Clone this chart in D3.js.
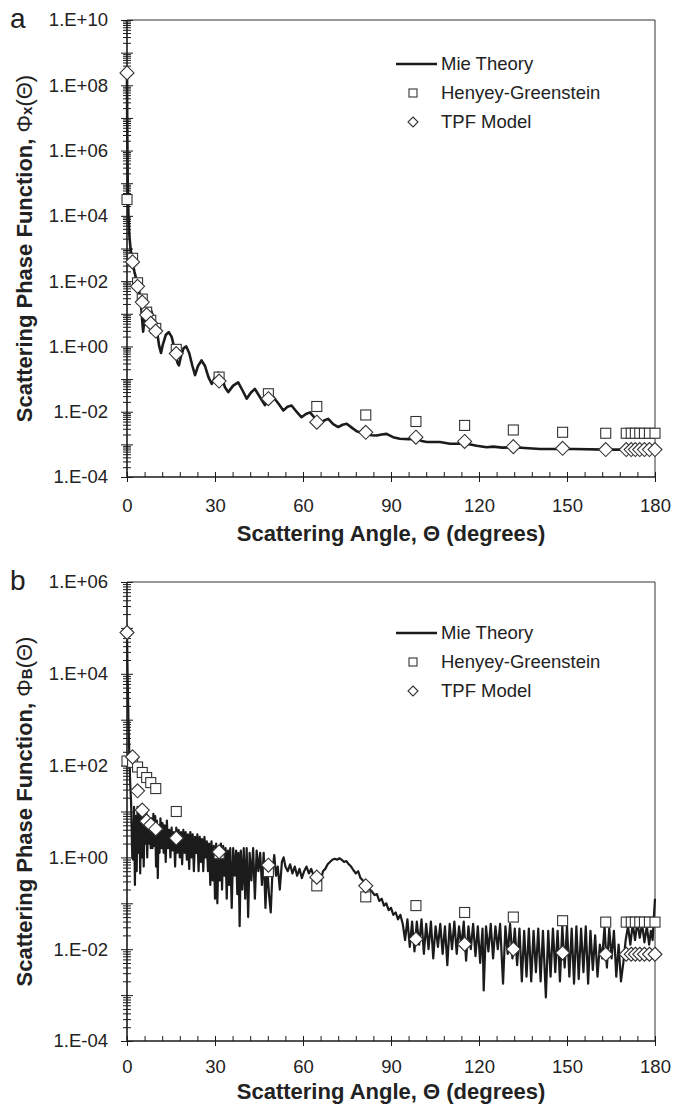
<!DOCTYPE html>
<html>
<head>
<meta charset="utf-8">
<script src="https://cdn.jsdelivr.net/npm/d3@7"></script>
<style>
  body { margin: 0; background: #fff; }
  svg { display: block; font-family: "Liberation Sans", Arial, sans-serif; }
</style>
</head>
<body>
<div class="chart"></div>
<script>
/* Quadrature angles (degrees) where the two models are plotted */
const quadAngles = [0, 1.9, 3.6, 5.2, 6.7, 8.1, 9.8, 16.8, 31.4, 48.2, 64.7, 81.4, 98.5,
  115.1, 131.7, 148.5, 163.2, 170.2, 171.9, 173.3, 174.8, 176.4, 178.1, 180];

/* All series below are log10 of the phase function */
const hgXLog = [4.5, 2.7, 1.95, 1.45, 1.05, 0.8, 0.55, -0.09, -0.94, -1.45, -1.84, -2.1, -2.3,
  -2.42, -2.56, -2.63, -2.66, -2.66, -2.66, -2.66, -2.66, -2.66, -2.66, -2.66];
const tpfXLog = [8.38, 2.59, 1.84, 1.36, 0.97, 0.71, 0.47, -0.22, -1.06, -1.6, -2.32, -2.63, -2.78,
  -2.91, -3.07, -3.12, -3.16, -3.16, -3.16, -3.16, -3.16, -3.16, -3.16, -3.16];
const hgBLog = [2.1, 2.07, 1.97, 1.85, 1.74, 1.63, 1.5, 1.0, 0.08, -0.31, -0.62, -0.86, -1.05,
  -1.2, -1.3, -1.38, -1.41, -1.41, -1.41, -1.41, -1.41, -1.41, -1.41, -1.41];
const tpfBLog = [4.9, 2.19, 1.45, 1.03, 0.79, 0.71, 0.62, 0.42, 0.12, -0.17, -0.43, -0.62, -1.78,
  -1.89, -2.0, -2.08, -2.11, -2.11, -2.11, -2.11, -2.11, -2.11, -2.11, -2.11];

/* Mie theory curves: [angle, log10 value] */
const mieXLog = [[0,8.4],[0.1,6.6],[0.25,5.0],[0.5,4.0],[0.8,3.4],[1.2,3.0],[1.8,2.62],[2.5,2.3],
  [3.3,2.0],[4.0,1.75],[4.6,1.5],[5.0,1.0],[5.5,0.45],[5.9,0.8],[6.5,1.05],[7.2,1.15],[7.8,1.17],
  [8.4,1.05],[9.0,0.85],[9.6,0.7],[10.4,0.35],[11.0,0.0],[11.6,-0.2],[12.2,0.05],[13.2,0.35],
  [14.2,0.44],[15.2,0.3],[16.3,-0.1],[17.2,-0.5],[17.7,-0.58],[18.4,-0.3],[19.3,-0.05],[20.2,0.0],
  [21.2,-0.2],[22.3,-0.6],[23.2,-0.88],[24.2,-0.6],[25.4,-0.43],[26.6,-0.6],[27.8,-0.95],
  [28.9,-1.15],[30.0,-0.95],[31.1,-0.8],[32.3,-0.95],[33.4,-1.25],[34.5,-1.4],[36.2,-1.2],
  [37.9,-1.1],[39.4,-1.35],[40.8,-1.6],[42.2,-1.42],[43.6,-1.3],[45.3,-1.55],[47.0,-1.8],
  [48.5,-1.65],[49.9,-1.55],[51.6,-1.75],[53.3,-1.96],[54.7,-1.85],[56.1,-1.81],[57.8,-2.0],
  [59.5,-2.17],[61.0,-2.07],[62.4,-2.02],[64.1,-2.2],[65.8,-2.37],[67.2,-2.27],[68.6,-2.22],
  [70.3,-2.38],[72.0,-2.47],[73.5,-2.4],[74.9,-2.37],[76.5,-2.48],[78.3,-2.6],[80.0,-2.65],
  [81.7,-2.68],[83.4,-2.72],[85.1,-2.73],[86.8,-2.7],[88.5,-2.68],[90.7,-2.78],[93,-2.83],
  [96,-2.84],[98.8,-2.83],[100.5,-2.9],[102.2,-2.93],[106.7,-2.93],[110.1,-2.98],[115.8,-2.98],
  [119.2,-3.04],[122.6,-3.09],[124.9,-3.07],[128,-3.1],[131.7,-3.09],[140.8,-3.14],
  [152.1,-3.14],[163.5,-3.16],[180,-3.16]];

const mieBLog = [[0,4.9],[0.2,4.0],[0.5,3.0],[0.8,2.2],[1.1,1.6],[1.4,1.2],[1.8,0.0],[2.1,-0.05],
  [2.4,1.1],[2.7,-0.6],[3.0,0.9],[3.3,-0.3],[3.6,1.1],[3.9,0.1],[4.2,1.0],[4.5,-0.35],[4.8,0.95],
  [5.1,0.0],[5.4,1.05],[5.7,-0.2],[6.0,0.8],[6.3,0.3],[6.6,1.0],[6.9,0.0],[7.2,0.9],[7.5,0.3],
  [7.8,0.8],[8.1,0.2],[8.4,0.85],[8.7,0.2],[9.0,0.95],[9.3,0.25],[9.6,0.9],[9.9,-0.2],[10.2,0.8],
  [10.5,-0.45],[10.8,0.7],[11.1,0.1],[11.4,0.85],[11.8,0.2],[12.1,0.75],[12.5,0.1],[12.8,0.7],
  [13.2,-0.1],[13.6,0.8],[14,0.2],[14.4,0.6],[14.8,0.0],[15.2,0.65],[15.6,0.15],[16.0,0.55],
  [16.4,-0.2],[16.8,0.65],[17.2,0.1],[17.6,0.6],[18.0,0.0],[18.4,0.55],[18.8,-0.15],[19.2,0.6],
  [19.6,0.1],[20.0,0.55],[20.4,-0.05],[20.8,0.5],[21.2,-0.25],[21.6,0.55],[22.0,0.0],[22.4,0.5],
  [22.8,-0.3],[23.2,0.45],[23.6,0.1],[24.0,0.5],[24.4,-0.3],[24.8,0.45],[25.2,-0.1],[25.6,0.4],
  [26.0,-0.3],[26.4,0.45],[26.8,0.0],[27.2,0.35],[27.6,-0.3],[28.0,0.3],[28.4,-0.6],[28.8,0.35],
  [29.2,-0.5],[29.6,0.25],[30.0,-0.9],[30.4,0.3],[30.8,-1.0],[31.2,0.2],[31.6,-0.5],[32,0.3],
  [32.4,-0.7],[32.8,0.25],[33.2,-0.4],[33.6,0.2],[34.0,-0.9],[34.4,0.15],[34.8,-0.6],[35.2,0.2],
  [35.7,-1.1],[36.2,0.2],[36.7,-0.4],[37.2,0.15],[37.6,-0.8],[38.0,0.1],[38.4,-1.5],[38.8,0.15],
  [39.3,-0.7],[39.8,0.2],[40.3,-0.9],[40.8,0.2],[41.3,-1.3],[41.8,0.1],[42.4,-0.5],[43.0,0.2],
  [43.6,-0.9],[44.2,0.15],[44.8,-0.3],[45.4,0.1],[46.0,-0.6],[46.6,0.1],[47.2,-1.1],[47.8,-0.2],
  [48.4,-0.8],[49.0,-1.2],[49.6,-0.3],[50.2,0.05],[50.8,-0.4],[51.4,-0.2],[52.1,-0.7],[52.8,-0.1],
  [53.4,0.0],[54,-0.2],[54.8,-0.3],[55.6,-0.15],[56.4,-0.35],[57.2,-0.2],[58.0,-0.4],[58.8,-0.25],
  [59.6,-0.45],[60.4,-0.3],[61.2,-0.2],[62,-0.35],[62.8,-0.25],[63.6,-0.4],[64.4,-0.5],
  [65.2,-0.35],[66,-0.55],[66.8,-0.3],[67.6,-0.25],[68.4,-0.15],[69.2,-0.1],[70,-0.05],
  [70.8,-0.03],[71.6,-0.05],[72.4,-0.02],[73.2,-0.05],[74,-0.1],[74.8,-0.08],[75.6,-0.15],
  [76.4,-0.2],[77.2,-0.28],[78,-0.35],[78.8,-0.3],[79.6,-0.45],[80.4,-0.5],[81.2,-0.6],[82,-0.65],
  [82.8,-0.7],[83.6,-0.75],[84.4,-0.82],[85.2,-0.8],[86,-0.95],[86.8,-0.9],[87.6,-1.05],
  [88.4,-1.0],[89.2,-1.15],[90,-1.1],[90.8,-1.25],[91.6,-1.2],[92.4,-1.35],[93.2,-1.25],
  [94.0,-1.45],[94.8,-1.8],[95.6,-1.35],[96.4,-1.95],[97.2,-1.4],[98.0,-2.05],[98.8,-1.4],
  [99.6,-1.9],[100.4,-1.35],[101.2,-2.1],[102.0,-1.45],[102.8,-2.0],[103.6,-1.4],[104.4,-2.2],
  [105.2,-1.5],[106.0,-1.95],[106.8,-1.45],[107.6,-2.1],[108.4,-1.5],[109.2,-2.35],[110.0,-1.45],
  [110.8,-2.0],[111.6,-1.4],[112.4,-2.1],[113.2,-1.5],[114.0,-1.95],[114.8,-1.4],[115.6,-2.25],
  [116.4,-1.5],[117.2,-2.0],[118.0,-1.45],[118.8,-2.15],[119.6,-1.5],[120.4,-2.3],[121.2,-1.55],
  [121.6,-2.9],[122.4,-1.5],[123.2,-2.05],[124.0,-1.45],[124.8,-2.2],[125.6,-1.5],[126.4,-2.0],
  [127.2,-1.45],[128.2,-2.75],[129.0,-1.5],[129.8,-2.1],[130.6,-1.45],[131.4,-2.2],[132.2,-1.55],
  [133.0,-2.35],[133.8,-1.55],[134.6,-2.7],[135.4,-1.6],[136.2,-2.6],[137.0,-1.55],[137.8,-2.7],
  [138.6,-1.6],[139.4,-2.5],[140.2,-1.55],[141.0,-2.7],[141.8,-1.6],[142.8,-3.05],[143.6,-1.6],
  [144.4,-2.6],[145.2,-1.55],[146.0,-2.5],[146.8,-1.6],[147.6,-2.7],[148.4,-1.5],[149.2,-2.4],
  [150.0,-1.5],[150.8,-2.6],[151.6,-1.55],[152.4,-2.75],[153.2,-1.5],[154.0,-2.65],[154.8,-1.55],
  [155.6,-2.5],[156.4,-1.5],[157.2,-2.75],[158.0,-1.6],[158.8,-2.45],[159.6,-1.7],[160.4,-2.6],
  [161.2,-1.9],[162.0,-2.2],[162.8,-1.5],[163.6,-2.4],[164.4,-1.55],[165.2,-2.2],[166.0,-1.6],
  [166.8,-2.6],[167.6,-1.9],[168.4,-2.7],[169.2,-2.3],[170.0,-1.8],[170.8,-1.5],[171.6,-1.9],
  [172.4,-1.45],[173.2,-1.8],[174.0,-1.4],[174.8,-1.75],[175.6,-1.45],[176.4,-1.85],[177.2,-1.5],
  [178.0,-1.9],[178.6,-1.6],[179.2,-1.8],[179.6,-1.3],[180,-0.9]];

const xTicks = [0, 30, 60, 90, 120, 150, 180];
const legendLabels = ["Mie Theory", "Henyey-Greenstein", "TPF Model"];

/* Layout */
const W = 673, H = 1110;
const left = 127, right = 655;
const ink = "#1b1b1b";

const svg = d3.select(".chart").append("svg")
  .attr("width", W).attr("height", H);

const pow = (e) => +("1e" + e);
const expLabel = (v) => {
  const e = Math.round(Math.log10(v));
  return "1.E" + (e < 0 ? "-" : "+") + String(Math.abs(e)).padStart(2, "0");
};

function drawPanel(p) {
  const g = svg.append("g");
  const x = d3.scaleLinear().domain([0, 180]).range([left, right]);
  const y = d3.scaleLog().domain([1e-4, pow(p.maxExp)]).range([p.bottom, p.top]);

  /* thin frame on top and right */
  g.append("line").attr("x1", x(0)).attr("x2", x(180)).attr("y1", p.top).attr("y2", p.top)
    .attr("stroke", "#333").attr("stroke-width", 1);
  g.append("line").attr("x1", x(180)).attr("x2", x(180)).attr("y1", p.top).attr("y2", p.bottom)
    .attr("stroke", "#333").attr("stroke-width", 1);

  /* y axis: minor ticks crossing the axis, labels every two decades */
  const exps = d3.range(-4, p.maxExp + 1);
  const decades = exps.map(pow);
  const minorTicks = exps.slice(0, -1).flatMap(e => d3.range(2, 10).map(k => k * pow(e)));
  const labelled = exps.filter(e => e % 2 === 0).map(pow);

  [d3.axisLeft, d3.axisRight].forEach(ax => {
    g.append("g").attr("transform", `translate(${left},0)`)
      .call(ax(y).tickValues(minorTicks).tickSize(4).tickFormat(""))
      .call(s => s.select(".domain").remove())
      .selectAll("line").attr("stroke", ink);
    g.append("g").attr("transform", `translate(${left},0)`)
      .call(ax(y).tickValues(decades).tickSize(6).tickFormat(""))
      .call(s => s.select(".domain").remove())
      .selectAll("line").attr("stroke", ink);
  });
  g.append("g").attr("transform", `translate(${left},0)`)
    .call(d3.axisLeft(y).tickValues(labelled).tickSize(0).tickPadding(19).tickFormat(expLabel))
    .call(s => s.select(".domain").remove())
    .selectAll("text").attr("font-size", 18.5).attr("fill", "#222")
    .attr("font-family", "'Liberation Sans', Arial, sans-serif");
  g.append("line").attr("x1", left).attr("x2", left).attr("y1", p.top).attr("y2", p.bottom)
    .attr("stroke", ink).attr("stroke-width", 1.6);

  /* x axis */
  const minorX = d3.range(0, 181, 6);
  g.append("g").attr("transform", `translate(0,${p.bottom})`)
    .call(d3.axisTop(x).tickValues(minorX).tickSize(5).tickFormat(""))
    .call(s => s.select(".domain").remove())
    .selectAll("line").attr("stroke", ink);
  g.append("g").attr("transform", `translate(0,${p.bottom})`)
    .call(d3.axisBottom(x).tickValues(xTicks).tickSize(5).tickPadding(p.xPad).tickFormat(d3.format("d")))
    .call(s => s.select(".domain").remove())
    .call(s => s.selectAll("line").attr("stroke", ink))
    .selectAll("text").attr("font-size", 18.5).attr("fill", "#222")
    .attr("font-family", "'Liberation Sans', Arial, sans-serif");
  g.append("line").attr("x1", left).attr("x2", right).attr("y1", p.bottom).attr("y2", p.bottom)
    .attr("stroke", ink).attr("stroke-width", 1.6);

  /* Mie curve */
  const line = d3.line().x(d => x(d[0])).y(d => y(Math.pow(10, d[1])));
  g.append("path").datum(p.mie).attr("d", line)
    .attr("fill", "none").attr("stroke", ink)
    .attr("stroke-width", p.lineW).attr("stroke-linejoin", "round");

  /* Henyey-Greenstein squares */
  const sq = 10;
  g.selectAll(".hg").data(quadAngles.map((a, i) => [a, p.hg[i]])).enter()
    .append("rect").attr("class", "hg")
    .attr("x", d => x(d[0]) - sq / 2).attr("y", d => y(Math.pow(10, d[1])) - sq / 2)
    .attr("width", sq).attr("height", sq)
    .attr("fill", "#fff").attr("stroke", "#333").attr("stroke-width", 1.1);

  /* TPF diamonds */
  const dm = 7;
  const diamond = `M0,${-dm}L${dm},0L0,${dm}L${-dm},0Z`;
  g.selectAll(".tpf").data(quadAngles.map((a, i) => [a, p.tpf[i]])).enter()
    .append("path").attr("class", "tpf")
    .attr("transform", d => `translate(${x(d[0])},${y(Math.pow(10, d[1]))})`)
    .attr("d", diamond)
    .attr("fill", "#fff").attr("stroke", "#333").attr("stroke-width", 1.1);

  /* legend */
  const lg = g.append("g");
  const ly = p.legendY;
  lg.append("line").attr("x1", 396).attr("x2", 437).attr("y1", ly[0]).attr("y2", ly[0])
    .attr("stroke", ink).attr("stroke-width", 2.5);
  lg.append("rect").attr("x", 413 - 4).attr("y", ly[1] - 4).attr("width", 8).attr("height", 8)
    .attr("fill", "#fff").attr("stroke", "#333").attr("stroke-width", 1.1);
  lg.append("path").attr("transform", `translate(413,${ly[2]})`)
    .attr("d", "M0,-5L5,0L0,5L-5,0Z")
    .attr("fill", "#fff").attr("stroke", "#333").attr("stroke-width", 1.1);
  legendLabels.forEach((t, i) => {
    lg.append("text").attr("x", 441).attr("y", ly[i]).attr("dy", "0.35em")
      .attr("font-size", 18.5).attr("fill", "#222").text(t);
  });

  /* axis titles */
  g.append("text").attr("x", (left + right) / 2).attr("y", p.bottom + p.titleOff)
    .attr("text-anchor", "middle").attr("font-size", 22).attr("font-weight", "bold")
    .attr("fill", "#222").text("Scattering Angle, \u0398 (degrees)");

  const yt = g.append("text")
    .attr("transform", `translate(32,${(p.top + p.bottom) / 2}) rotate(-90)`)
    .attr("text-anchor", "middle").attr("font-size", 22).attr("font-weight", "bold")
    .attr("fill", "#222");
  yt.append("tspan").text("Scattering Phase Function, ");
  yt.append("tspan").attr("font-weight", "normal").text("\u03A6");
  yt.append("tspan").attr("font-size", 15).text(p.sub);
  yt.append("tspan").attr("font-weight", "normal").text("(\u0398)");

  /* panel letter */
  g.append("text").attr("x", 10).attr("y", p.top + 8)
    .attr("font-size", 28).attr("fill", "#222").text(p.letter);
}

drawPanel({ top: 20, bottom: 477, maxExp: 10, mie: mieXLog, hg: hgXLog, tpf: tpfXLog,
  lineW: 2.6, legendY: [64, 93, 122], sub: "x", letter: "a", xPad: 17, titleOff: 64 });
drawPanel({ top: 582, bottom: 1041, maxExp: 6, mie: mieBLog, hg: hgBLog, tpf: tpfBLog,
  lineW: 2.2, legendY: [633, 662, 691], sub: "B", letter: "b", xPad: 14, titleOff: 58 });
</script>
</body>
</html>
